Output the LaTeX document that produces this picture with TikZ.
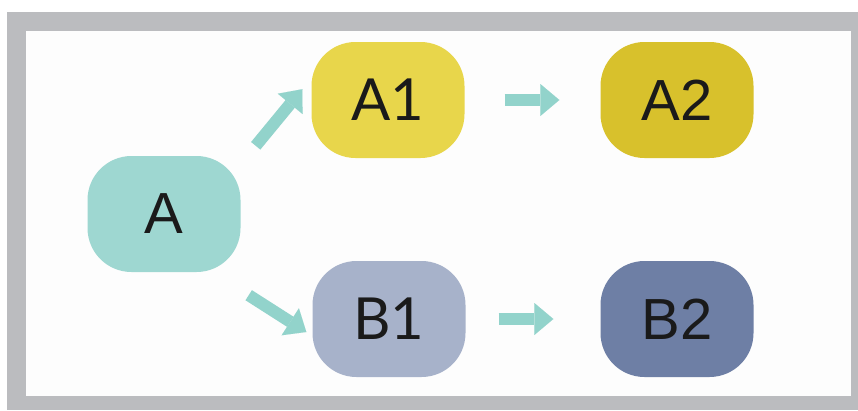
\documentclass[tikz,border=0pt]{standalone}
\usepackage{fontspec}
\setmainfont{Lato}
\newfontfamily\arialfont{Liberation Sans}
\usetikzlibrary{arrows.meta,calc}

\definecolor{framegray}{HTML}{BBBCBF}
\definecolor{paper}{HTML}{FDFDFD}
\definecolor{tealbox}{HTML}{9ED7D1}
\definecolor{yellowA}{HTML}{E8D64B}
\definecolor{yellowB}{HTML}{D8C12C}
\definecolor{blueA}{HTML}{A7B2CA}
\definecolor{blueB}{HTML}{6E7FA5}
\definecolor{arrowteal}{HTML}{92D3CB}
\definecolor{ink}{HTML}{1A1A1A}

\tikzset{
  stage/.style={rounded corners=44pt, minimum width=153pt, minimum height=116pt,
    inner sep=0pt, text=ink, font=\fontsize{58}{58}\selectfont},
  arialstage/.style={stage, font=\arialfont\fontsize{58}{58}\selectfont},
  flow/.style={draw=arrowteal, line width=12pt,
    -{Triangle[width=32pt 0, length=19pt 0, line width=0.01pt]}},
}

\begin{document}
\begin{tikzpicture}[x=1pt,y=-1pt]
  \useasboundingbox (0,0) rectangle (858,410);
  % outer gray frame and white panel
  \fill[white] (0,0) rectangle (858,410);
  \fill[framegray] (7,12) rectangle (858,410);
  \fill[paper] (26,31) rectangle (851,396);

  % stages
  \node[arialstage, fill=tealbox] (A) at (164,214) {A};
  \node[stage, fill=yellowA] (A1) at (388,100) {A1};
  \node[arialstage, fill=yellowB] (A2) at (677,100) {A2};
  \node[stage, fill=blueA] (B1) at (389,319) {B1};
  \node[arialstage, fill=blueB] (B2) at (677,319) {B2};

  % ends of the diagonal arrows
  \coordinate (up0) at ($(A.north east)+(15,-10)$);
  \coordinate (up1) at ($(A1.south west)+(-9,-69)$);
  \coordinate (dn0) at ($(A.south east)+(8,23)$);
  \coordinate (dn1) at ($(B1.west)+(-6,13)$);

  % connectors
  \draw[flow] (up0) -- (up1);
  \draw[flow] (dn0) -- (dn1);
  \draw[flow, shorten <=40pt, shorten >=41pt] (A1.east) -- (A2.west);
  \draw[flow, shorten <=33pt, shorten >=47pt] (B1.east) -- (B2.west);
\end{tikzpicture}
\end{document}
